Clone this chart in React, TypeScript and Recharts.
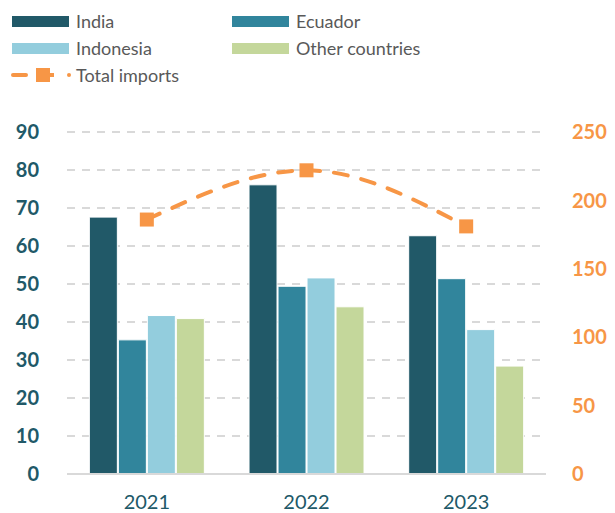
import {
  ComposedChart,
  Bar,
  Line,
  XAxis,
  YAxis,
  CartesianGrid,
} from 'recharts';

const years = ['2021', '2022', '2023'];
const india = [67.6, 76.1, 62.7];
const ecuador = [35.3, 49.4, 51.4];
const indonesia = [41.7, 51.6, 38.0];
const otherCountries = [40.9, 44.0, 28.4];
const totalImports = [186, 222, 181];

const leftTicks = [0, 10, 20, 30, 40, 50, 60, 70, 80, 90];
const rightTicks = [0, 50, 100, 150, 200, 250];

const COLORS = {
  india: '#215968',
  ecuador: '#31859C',
  indonesia: '#93CDDD',
  other: '#C4D79B',
  total: '#F79646',
};

const FONT = 'Lato, "Noto Sans", sans-serif';

const data = years.map((year, i) => ({
  year,
  india: india[i],
  ecuador: ecuador[i],
  indonesia: indonesia[i],
  other: otherCountries[i],
  total: totalImports[i],
}));

function SquareDot(props: any) {
  const { cx, cy } = props;
  if (cx == null || cy == null) return null;
  return <rect x={cx - 7} y={cy - 7} width={14} height={14} fill={COLORS.total} />;
}

function LegendSwatch({ color, left, top, label }: { color: string; left: number; top: number; label: string }) {
  return (
    <div style={{ position: 'absolute', left, top, display: 'flex', alignItems: 'center' }}>
      <div style={{ width: 57, height: 11, background: color }} />
      <span style={{ marginLeft: 7, fontSize: 18, color: '#595959', fontFamily: FONT, lineHeight: '20px' }}>{label}</span>
    </div>
  );
}

export default function App() {
  return (
    <div style={{ position: 'absolute', left: 0, top: 0, width: 615, height: 513, background: '#fff' }}>
      <LegendSwatch color={COLORS.india} left={12} top={11} label="India" />
      <LegendSwatch color={COLORS.ecuador} left={232} top={11} label="Ecuador" />
      <LegendSwatch color={COLORS.indonesia} left={12} top={38} label="Indonesia" />
      <LegendSwatch color={COLORS.other} left={232} top={38} label="Other countries" />
      <div style={{ position: 'absolute', left: 10, top: 65, display: 'flex', alignItems: 'center' }}>
        <svg width={62} height={20}>
          <line x1={3} y1={10} x2={16} y2={10} stroke={COLORS.total} strokeWidth={4} strokeLinecap="round" />
          <rect x={26} y={3} width={14} height={14} fill={COLORS.total} />
          <line x1={40} y1={10} x2={44} y2={10} stroke={COLORS.total} strokeWidth={4} />
          <circle cx={59} cy={10} r={2} fill={COLORS.total} />
        </svg>
        <span style={{ marginLeft: 4, fontSize: 18, color: '#595959', fontFamily: FONT, lineHeight: '20px' }}>Total imports</span>
      </div>
      <div style={{ position: 'absolute', left: 0, top: 0 }}>
        <ComposedChart
          width={615}
          height={513}
          data={data}
          margin={{ top: 132, right: 0, bottom: 9, left: 0 }}
          barCategoryGap="14%"
          barGap={1}
        >
          <CartesianGrid
            yAxisId="left"
            vertical={false}
            stroke="#D9D9D9"
            strokeWidth={2}
            strokeDasharray="8 7"
          />
          <XAxis
            dataKey="year"
            height={30}
            tickLine={false}
            tickSize={0}
            tickMargin={21}
            axisLine={{ stroke: '#D9D9D9', strokeWidth: 2 }}
            tick={{ fontSize: 20, fill: '#215968', fontFamily: FONT }}
          />
          <YAxis
            yAxisId="left"
            orientation="left"
            width={67}
            domain={[0, 90]}
            ticks={leftTicks}
            axisLine={false}
            tickLine={false}
            tickSize={0}
            tickMargin={28}
            tick={{ fontSize: 20, fontWeight: 700, fill: '#215968', fontFamily: FONT }}
          />
          <YAxis
            yAxisId="right"
            orientation="right"
            width={69}
            domain={[0, 250]}
            ticks={rightTicks}
            axisLine={false}
            tickLine={false}
            tickSize={0}
            tickMargin={26}
            tick={{ fontSize: 20, fontWeight: 700, fill: COLORS.total, fontFamily: FONT, textAnchor: 'start' }}
          />
          <Bar yAxisId="left" dataKey="india" fill={COLORS.india} stroke="#fff" strokeWidth={1} isAnimationActive={false} />
          <Bar yAxisId="left" dataKey="ecuador" fill={COLORS.ecuador} stroke="#fff" strokeWidth={1} isAnimationActive={false} />
          <Bar yAxisId="left" dataKey="indonesia" fill={COLORS.indonesia} stroke="#fff" strokeWidth={1} isAnimationActive={false} />
          <Bar yAxisId="left" dataKey="other" fill={COLORS.other} stroke="#fff" strokeWidth={1} isAnimationActive={false} />
          <Line
            yAxisId="right"
            type="monotone"
            dataKey="total"
            stroke={COLORS.total}
            strokeWidth={4}
            strokeDasharray="14 14"
            strokeLinecap="round"
            dot={<SquareDot />}
            activeDot={false}
            isAnimationActive={false}
          />
        </ComposedChart>
      </div>
    </div>
  );
}
